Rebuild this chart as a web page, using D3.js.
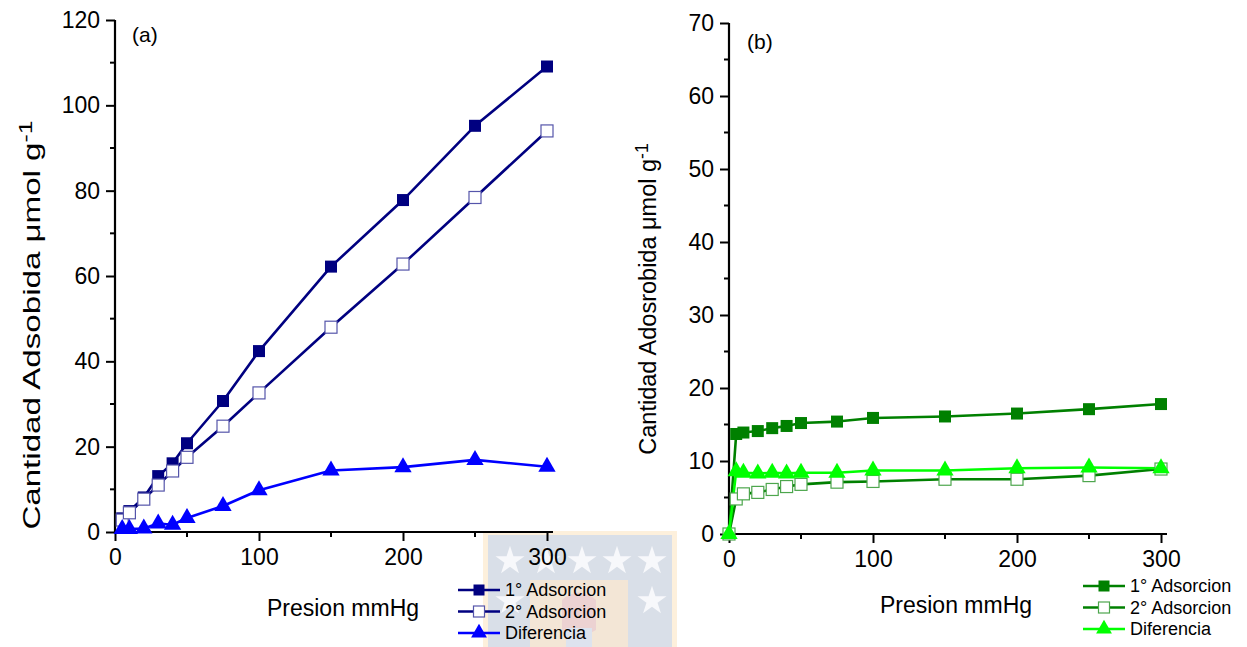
<!DOCTYPE html>
<html>
<head>
<meta charset="utf-8">
<script src="https://cdn.jsdelivr.net/npm/d3@7"></script>
<style>
  html, body { margin: 0; padding: 0; background: #fff; }
  svg { display: block; font-family: "Liberation Sans", Arial, sans-serif; }
</style>
</head>
<body>
<svg id="chart" width="1247" height="647"></svg>
<script>
// Pressure points (mmHg)
const presionA = [5, 10, 20, 30, 40, 50, 75, 100, 150, 200, 250, 300];
const presionB = [0, 5, 10, 20, 30, 40, 50, 75, 100, 150, 200, 250, 300];

// Panel (a): adsorbed amount, µmol/g
const adsorcion1A = [3.2, 4.9, 8.1, 13.1, 16.1, 20.8, 30.7, 42.4, 62.2, 77.8, 95.2, 109.1];
const adsorcion2A = [2.8, 4.5, 7.7, 11.0, 14.3, 17.5, 24.8, 32.6, 48.0, 62.8, 78.4, 94.0];
const diferenciaA = [0.7, 0.7, 0.8, 2.0, 1.7, 3.3, 6.1, 9.8, 14.4, 15.2, 16.9, 15.3];

// Panel (b): adsorbed amount, µmol/g
const adsorcion1B = [0, 13.7, 13.9, 14.1, 14.5, 14.8, 15.2, 15.4, 15.9, 16.1, 16.5, 17.1, 17.8];
const adsorcion2B = [0, 4.8, 5.5, 5.7, 6.1, 6.5, 6.8, 7.1, 7.2, 7.5, 7.5, 8.0, 8.9];
const diferenciaB = [0, 8.6, 8.4, 8.3, 8.4, 8.3, 8.4, 8.4, 8.7, 8.7, 9.0, 9.1, 9.0];

const xTicks = [0, 100, 200, 300];
const yTicksA = [0, 20, 40, 60, 80, 100, 120];
const yTicksB = [0, 10, 20, 30, 40, 50, 60, 70];
const legendLabels = ["1\u00b0 Adsorcion", "2\u00b0 Adsorcion", "Diferencia"];

const svg = d3.select("#chart");

// Faint university seal behind the lower middle of the page
function drawSeal() {
  const g = svg.append("g");
  g.append("rect").attr("x", 483).attr("y", 531).attr("width", 194).attr("height", 116)
    .attr("fill", "#fdf0dc");
  g.append("rect").attr("x", 488).attr("y", 535).attr("width", 184).attr("height", 112)
    .attr("fill", "#d9dfe8");
  g.append("rect").attr("x", 530).attr("y", 580).attr("width", 98).attr("height", 67)
    .attr("fill", "#f3e6d6");
  g.append("path").attr("d", "M562,600 Q579,585 596,600 L596,630 Q579,640 562,630 Z")
    .attr("fill", "#ecd2d2");
  g.append("rect").attr("x", 566).attr("y", 628).attr("width", 26).attr("height", 19)
    .attr("fill", "#dde3ee");
  const star = d3.symbol().type(d3.symbolStar).size(260);
  const stars = [[510, 561], [546, 561], [582, 561], [617, 561], [652, 561], [652, 601], [510, 601]];
  g.selectAll("path.star").data(stars).join("path")
    .attr("class", "star")
    .attr("transform", d => `translate(${d[0]},${d[1]})`)
    .attr("d", star).attr("fill", "#f7f8fb");
}
drawSeal();

function panel(opts) {
  const g = svg.append("g");
  const x = d3.scaleLinear().domain([0, 300]).range([opts.x0, opts.x1]);
  const y = d3.scaleLinear().domain([0, opts.yMax]).range([opts.y0, opts.y1]);

  // axes with minor ticks
  const minorX = d3.range(50, 300, 100);
  const minorY = d3.range(opts.yStep / 2, opts.yMax, opts.yStep);

  const xAxis = g.append("g").attr("transform", `translate(0,${opts.y0})`)
    .call(d3.axisBottom(x).tickValues(xTicks).tickSize(9).tickPadding(5).tickFormat(d3.format("d")));
  xAxis.append("g").selectAll("line").data(minorX).join("line")
    .attr("x1", d => x(d)).attr("x2", d => x(d)).attr("y1", 0).attr("y2", 5)
    .attr("stroke", "#000").attr("stroke-width", 2);
  xAxis.select(".domain").attr("d", `M${opts.x0 - 1},0H${opts.x1 + 6}`);

  const yAxis = g.append("g").attr("transform", `translate(${opts.x0},0)`)
    .call(d3.axisLeft(y).tickValues(opts.yTicks).tickSize(9).tickPadding(6).tickFormat(d3.format("d")));
  yAxis.append("g").selectAll("line").data(minorY).join("line")
    .attr("y1", d => y(d)).attr("y2", d => y(d)).attr("x1", 0).attr("x2", -5)
    .attr("stroke", "#000").attr("stroke-width", 2);
  yAxis.select(".domain").attr("d", `M0,${opts.y1}V${opts.y0 + 1}`);

  [xAxis, yAxis].forEach(a => {
    a.selectAll(".domain").attr("stroke", "#000").attr("stroke-width", 2.2);
    a.selectAll(".tick line").attr("stroke", "#000").attr("stroke-width", 2);
    a.selectAll(".tick text").attr("fill", "#000").style("font-size", "23px")
      .style("font-family", "'Liberation Sans', Arial, sans-serif");
  });
  xAxis.selectAll(".tick text").attr("dy", "0.82em");

  // axis titles
  g.append("text").attr("x", opts.xTitleX).attr("y", opts.xTitleY)
    .attr("text-anchor", "middle").style("font-size", "23px").text("Presion mmHg");

  const yt = g.append("text")
    .attr("transform", `translate(${opts.yTitleX},${opts.yTitleY}) rotate(-90) scale(${opts.yTitleStretch},1)`)
    .attr("text-anchor", "middle").style("font-size", opts.yTitleSize + "px");
  yt.append("tspan").text(opts.yTitle + " \u03bcmol g");
  yt.append("tspan").attr("dy", "-0.45em").style("font-size", (opts.yTitleSize * 0.75) + "px").text("-1");

  g.append("text").attr("x", opts.tagX).attr("y", opts.tagY)
    .style("font-size", "21px").text(opts.tag);

  const line = d3.line().x(d => x(d[0])).y(d => y(d[1]));
  const sq = 12;

  opts.series.forEach(s => {
    const pts = s.xs.map((v, i) => [v, s.ys[i]]);
    g.append("path").datum(pts).attr("d", line)
      .attr("fill", "none").attr("stroke", s.color).attr("stroke-width", 2.6)
      .attr("stroke-linejoin", "round");
  });

  opts.series.forEach(s => {
    const pts = s.xs.map((v, i) => [v, s.ys[i]]);
    drawMarkers(g, pts.map(p => [x(p[0]), y(p[1])]), s, sq);
  });

  // legend
  opts.series.forEach((s, i) => {
    const ly = opts.legY + i * 21.5;
    g.append("line").attr("x1", opts.legX).attr("x2", opts.legX + 42)
      .attr("y1", ly).attr("y2", ly).attr("stroke", s.color).attr("stroke-width", 2.6);
    drawMarkers(g, [[opts.legX + 21, ly]], s, 11);
    g.append("text").attr("x", opts.legX + 47).attr("y", ly).attr("dy", "0.35em")
      .style("font-size", "18px").text(legendLabels[i]);
  });
}

function drawMarkers(g, pts, s, sq) {
  if (s.shape === "tri") {
    const tri = d3.symbol().type(d3.symbolTriangle).size(sq * sq * 0.9);
    g.selectAll(null).data(pts).join("path")
      .attr("transform", d => `translate(${d[0]},${d[1]})`)
      .attr("d", tri).attr("fill", s.color);
  } else {
    g.selectAll(null).data(pts).join("rect")
      .attr("x", d => d[0] - sq / 2).attr("y", d => d[1] - sq / 2)
      .attr("width", sq).attr("height", sq)
      .attr("fill", s.shape === "open" ? "#fff" : s.color)
      .attr("stroke", s.shape === "open" ? s.edge : "none")
      .attr("stroke-width", 1.2);
  }
}

panel({
  x0: 115, x1: 547, y0: 532, y1: 20, yMax: 120, yStep: 20, yTicks: yTicksA,
  xTitleX: 343, xTitleY: 616, yTitleX: 40, yTitleY: 325, yTitleSize: 24, yTitleStretch: 1.38,
  yTitle: "Cantidad Adsobida", tag: "(a)", tagX: 132, tagY: 42,
  legX: 458, legY: 590,
  series: [
    { xs: presionA, ys: adsorcion1A, color: "#000080", shape: "fill" },
    { xs: presionA, ys: adsorcion2A, color: "#000080", shape: "open", edge: "#5555aa" },
    { xs: presionA, ys: diferenciaA, color: "#0000ff", shape: "tri" }
  ]
});

panel({
  x0: 729, x1: 1161, y0: 534, y1: 23, yMax: 70, yStep: 10, yTicks: yTicksB,
  xTitleX: 956, xTitleY: 613, yTitleX: 656, yTitleY: 299, yTitleSize: 23.5, yTitleStretch: 1,
  yTitle: "Cantidad Adosrobida", tag: "(b)", tagX: 747, tagY: 49,
  legX: 1083, legY: 586,
  series: [
    { xs: presionB, ys: adsorcion1B, color: "#008000", shape: "fill" },
    { xs: presionB, ys: adsorcion2B, color: "#008000", shape: "open", edge: "#4da64d" },
    { xs: presionB, ys: diferenciaB, color: "#00ff00", shape: "tri" }
  ]
});
</script>
</body>
</html>
